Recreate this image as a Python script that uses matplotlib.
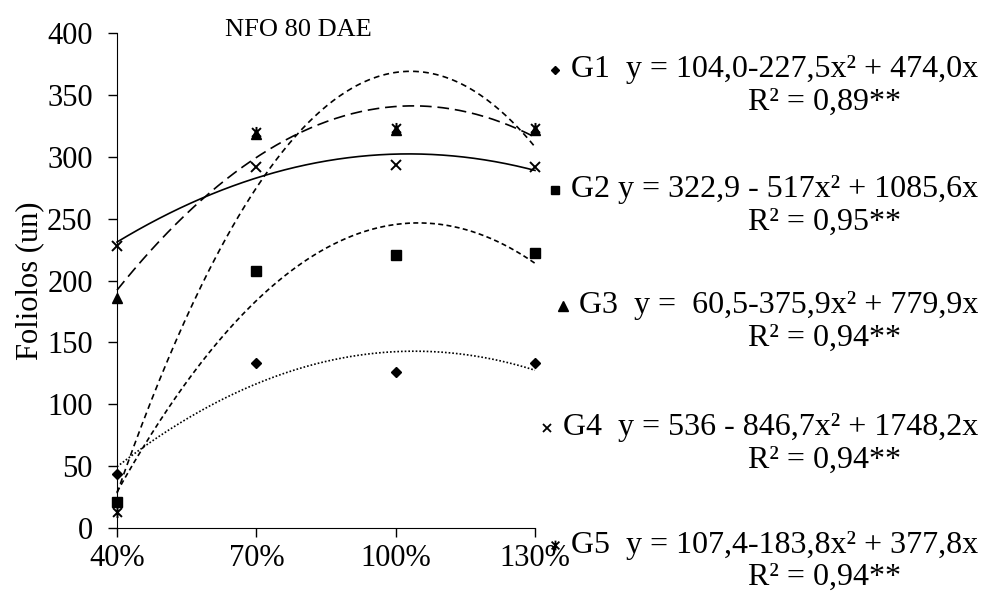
import numpy as np
import matplotlib
matplotlib.use("Agg")
import matplotlib.pyplot as plt
from matplotlib.lines import Line2D
from matplotlib.path import Path

plt.rcParams['font.family'] = ['Liberation Serif', 'DejaVu Serif']

# irrigation levels (fraction) and tick labels
doses = [0.4, 0.7, 1.0, 1.3]
dose_labels = ['40%', '70%', '100%', '130%']

# foliolos per genotype
g1 = [44, 133, 126, 133]
g2 = [21, 208, 221, 222]
g3 = [186, 318, 322, 322]
g4 = [228, 292, 293, 292]
g5 = [13, 320, 323, 323]

labels = ['G1  y = 104,0-227,5x² + 474,0x',
          'G2 y = 322,9 - 517x² + 1085,6x',
          'G3  y =  60,5-375,9x² + 779,9x',
          'G4  y = 536 - 846,7x² + 1748,2x',
          'G5  y = 107,4-183,8x² + 377,8x']
r2_labels = ['R² = 0,89**', 'R² = 0,95**', 'R² = 0,94**', 'R² = 0,94**', 'R² = 0,94**']

# excel style star: an x with a vertical bar through it
star = Path([(-1, -1), (1, 1), (-1, 1), (1, -1), (0, -1.25), (0, 1.25)],
            [Path.MOVETO, Path.LINETO, Path.MOVETO, Path.LINETO, Path.MOVETO, Path.LINETO])

series = [g1, g2, g3, g4, g5]
markers = ['D', 's', '^', 'x', star]
msizes = [5.5, 7, 7.5, 7, 8]
linestyles = [(0, (1, 1.2)), (0, (3, 2)), (0, (7, 3.5)), '-', (0, (3.5, 2.5))]

fig = plt.figure(figsize=(9.83, 5.98), dpi=100)
ax = fig.add_axes([117 / 983, 1 - 528 / 598, 418 / 983, 495 / 598])

xs = np.linspace(doses[0], doses[-1], 200)
for vals, ls in zip(series, linestyles):
    # quadratic trendline, same as the spreadsheet did
    coef = np.polyfit(doses, vals, 2)
    ax.plot(xs, np.polyval(coef, xs), color='black', linestyle=ls, linewidth=1.2, clip_on=False)

for vals, mk, ms in zip(series, markers, msizes):
    mew = 1.4 if mk is star or mk == 'x' else 1
    ax.plot(doses, vals, linestyle='none', marker=mk, markersize=ms, color='black',
            markeredgewidth=mew, clip_on=False, zorder=3)

ax.set_xlim(0.4, 1.3)
ax.set_ylim(0, 400)
ax.set_xticks(doses)
ax.set_xticklabels(dose_labels)
ax.set_yticks(range(0, 401, 50))
ax.tick_params(direction='out', length=6.5, width=1, labelsize=22)
ax.tick_params(axis='x', pad=5)
ax.tick_params(axis='y', pad=11)
ax.spines['top'].set_visible(False)
ax.spines['right'].set_visible(False)
ax.set_ylabel('Foliolos (un)', fontsize=22, labelpad=2)

fig.text(298 / 983, 1 - 30 / 598, 'NFO 80 DAE', fontsize=19, ha='center', va='center')

# legend drawn by hand, with the equations
row_y = [70, 190, 306, 428, 545]
renderer = fig.canvas.get_renderer()
for i in range(5):
    y = row_y[i]
    t = fig.text(978 / 983, 1 - y / 598, labels[i], fontsize=23, ha='right', va='center')
    fig.text(748 / 983, 1 - (y + 32) / 598, r2_labels[i], fontsize=23, ha='left', va='center')
    x0 = t.get_window_extent(renderer).x0
    mew = 1.3 if markers[i] is star or markers[i] == 'x' else 1
    fig.add_artist(Line2D([(x0 - 16) / 983], [1 - y / 598], transform=fig.transFigure,
                          marker=markers[i], markersize=msizes[i] - 1, color='black',
                          markeredgewidth=mew, linestyle='none'))

fig.savefig('out.png', dpi=100)
